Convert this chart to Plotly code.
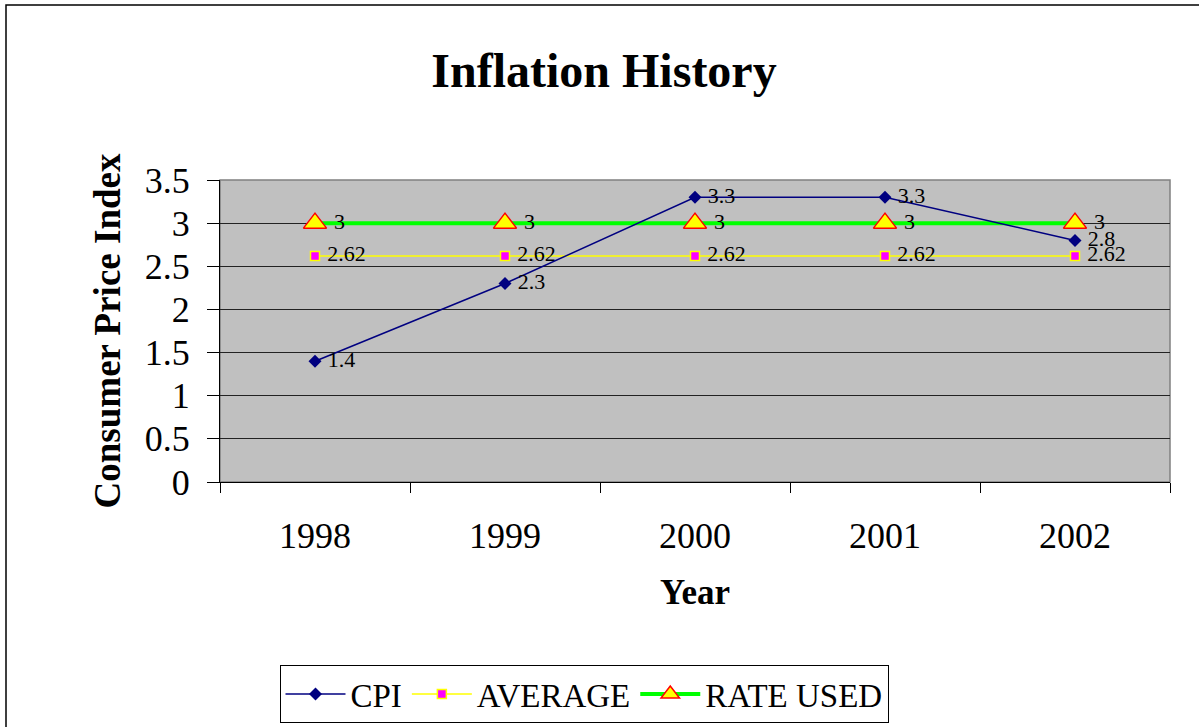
import plotly.graph_objects as go

years = ["1998", "1999", "2000", "2001", "2002"]
cpi = [1.4, 2.3, 3.3, 3.3, 2.8]
average = [2.62, 2.62, 2.62, 2.62, 2.62]
rate_used = [3, 3, 3, 3, 3]
y_ticks = [0, 0.5, 1, 1.5, 2, 2.5, 3, 3.5]
y_tick_labels = ["0", "0.5", "1", "1.5", "2", "2.5", "3", "3.5"]

FONT = "Liberation Serif"
W, H = 1199, 727
L, R, T, B = 220, 1170, 180, 482
PAD = "\u00a0"

fig = go.Figure()
fig.add_trace(go.Scatter(
    x=years, y=rate_used, name="RATE USED", mode="lines+markers+text",
    line=dict(color="#00FF00", width=4),
    marker=dict(symbol="triangle-up", size=20, color="#FFFF00", line=dict(color="#FF0000", width=1.5)),
    text=[PAD + str(v) for v in rate_used], textposition="middle right",
    textfont=dict(family=FONT, size=22, color="black"),
))
fig.add_trace(go.Scatter(
    x=years, y=average, name="AVERAGE", mode="lines+markers+text",
    line=dict(color="#FFFF00", width=1.5),
    marker=dict(symbol="square", size=9, color="#FF00FF", line=dict(color="#FFFF00", width=1.5)),
    text=[PAD + f"{v:.2f}" for v in average], textposition="middle right",
    textfont=dict(family=FONT, size=22, color="black"),
))
fig.add_trace(go.Scatter(
    x=years, y=cpi, name="CPI", mode="lines+markers+text",
    line=dict(color="#000080", width=1.5),
    marker=dict(symbol="diamond", size=10, color="#000080"),
    text=[PAD + str(v) for v in cpi], textposition="middle right",
    textfont=dict(family=FONT, size=22, color="black"),
))

fig.update_layout(
    width=W, height=H,
    margin=dict(l=L, r=W - R, t=T, b=H - B, autoexpand=False),
    paper_bgcolor="white", plot_bgcolor="#C0C0C0",
    font=dict(family=FONT, color="black"),
    title=dict(text="<b>Inflation History</b>", font=dict(family=FONT, size=48, color="black"),
               x=604 / W, xref="container", xanchor="center",
               y=1 - 70 / H, yref="container", yanchor="middle"),
    showlegend=True,
    legend=dict(orientation="h", x=(584 - L) / (R - L), xanchor="center",
                y=(B - 665) / (B - T), yanchor="top",
                bordercolor="black", borderwidth=1, bgcolor="white",
                font=dict(family=FONT, size=33, color="black"),
                traceorder="reversed", itemwidth=60, tracegroupgap=0),
    xaxis=dict(type="category", categoryorder="array", categoryarray=years,
               showgrid=False, showline=True, linecolor="black", linewidth=1,
               ticks="outside", tickson="boundaries", ticklen=10, tickcolor="black",
               tickfont=dict(family=FONT, size=36, color="black"),
               ticklabelstandoff=22,
               title=dict(text="<b>Year</b>", font=dict(family=FONT, size=35, color="black"), standoff=24),
               range=[-0.5, 4.5], zeroline=False),
    yaxis=dict(range=[0, 3.5], tickvals=y_ticks, ticktext=y_tick_labels,
               showgrid=True, gridcolor="#222222", gridwidth=1,
               showline=True, linecolor="black", linewidth=1,
               ticks="outside", ticklen=12, tickcolor="black",
               tickfont=dict(family=FONT, size=36, color="black"),
               ticklabelstandoff=10,
               title=dict(text="<b>Consumer Price Index</b>", font=dict(family=FONT, size=37, color="black"), standoff=12),
               zeroline=False),
)
# gray border of plot area
fig.add_shape(type="rect", xref="paper", yref="paper", x0=0, x1=1, y0=0, y1=1,
              line=dict(color="#808080", width=1.5), layer="below")
# outer chart border
fig.add_shape(type="rect", xref="paper", yref="paper",
              x0=(6 - L) / (R - L), x1=(W + 10 - L) / (R - L),
              y0=(B - (H + 10)) / (B - T), y1=(B - 5) / (B - T),
              line=dict(color="black", width=1.5), layer="below")

fig.write_html("out.html", config={"displayModeBar": False},
               post_script="document.body.style.margin='0';document.body.style.overflow='hidden';")
